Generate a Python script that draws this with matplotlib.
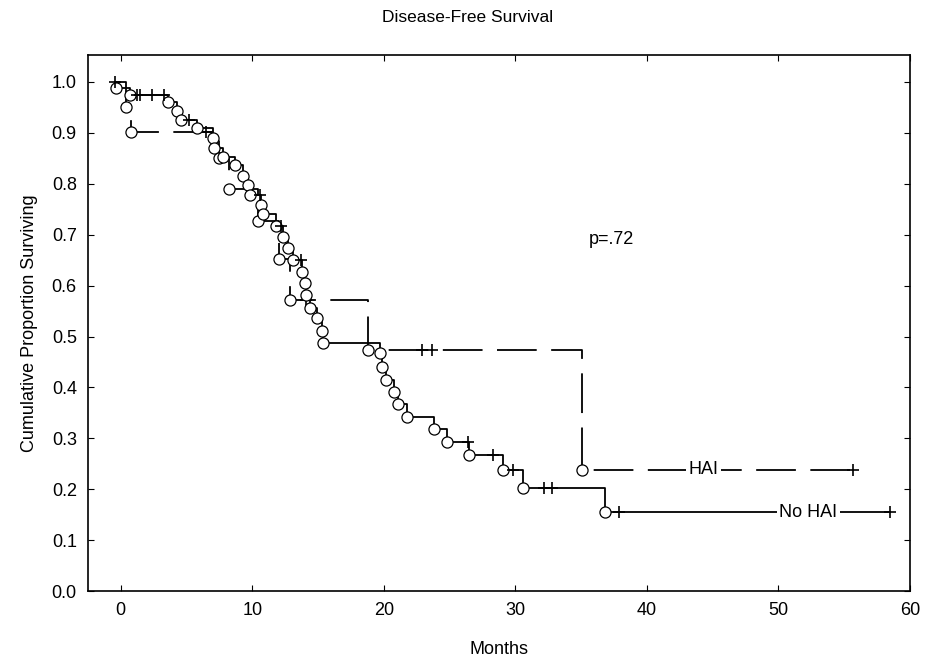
import numpy as np
import matplotlib
matplotlib.use("Agg")
import matplotlib.pyplot as plt

plt.rcParams['font.family'] = ['Liberation Sans', 'DejaVu Sans']

# No HAI group: complete observations (time in months, survival after event)
nohai_event_t = [-0.4, 0.7, 3.6, 4.3, 4.6, 5.8, 7.0, 7.1, 7.8, 8.7, 9.3, 9.7, 9.8,
                 10.7, 10.85, 11.8, 12.3, 12.7, 13.1, 13.8, 14.0, 14.1, 14.4, 14.9,
                 15.3, 15.4, 19.7, 19.85, 20.2, 20.8, 21.1, 21.8, 23.8, 24.8, 26.5,
                 29.1, 30.6, 36.8]
nohai_event_s = [0.988, 0.975, 0.96, 0.942, 0.925, 0.91, 0.89, 0.87, 0.852, 0.836,
                 0.816, 0.798, 0.778, 0.758, 0.74, 0.717, 0.696, 0.674, 0.65, 0.627,
                 0.605, 0.582, 0.556, 0.536, 0.511, 0.487, 0.467, 0.44, 0.415, 0.391,
                 0.367, 0.342, 0.318, 0.293, 0.267, 0.238, 0.203, 0.155]
nohai_censor_t = [-0.45, 1.2, 1.45, 2.4, 3.3, 5.2, 10.6, 12.2, 13.7, 26.4, 28.3,
                  29.8, 32.2, 32.8, 37.9, 58.5]

# HAI group
hai_event_t = [0.4, 0.8, 7.5, 8.2, 10.4, 12.0, 12.85, 18.8, 35.1]
hai_event_s = [0.951, 0.902, 0.85, 0.79, 0.727, 0.652, 0.572, 0.473, 0.238]
hai_censor_t = [6.5, 14.1, 22.9, 23.7, 55.7]

start_t = -0.45
p_text = "p=.72"


def surv_at(t, ev_t, ev_s):
    # survival level holding at time t
    idx = np.searchsorted(ev_t, t, side='right') - 1
    return 1.0 if idx < 0 else ev_s[idx]


def draw_group(ax, ev_t, ev_s, cen_t, ls, dashes=None):
    end_t = max(max(cen_t), max(ev_t))
    xs = [start_t] + list(ev_t) + [end_t]
    ys = [1.0] + list(ev_s) + [ev_s[-1]]
    line, = ax.step(xs, ys, where='post', color='black', lw=1.3, ls=ls, zorder=2)
    if dashes is not None:
        line.set_dashes(dashes)
    ax.plot(ev_t, ev_s, 'o', ms=8, mfc='white', mec='black', mew=0.9, zorder=3)
    cen_s = [surv_at(t, ev_t, ev_s) for t in cen_t]
    ax.plot(cen_t, cen_s, '+', ms=9, mec='black', mew=1.2, zorder=3)


fig = plt.figure(figsize=(9.35, 6.62), dpi=100)
ax = fig.add_axes([0.094, 0.107, 0.879, 0.810])

draw_group(ax, hai_event_t, hai_event_s, hai_censor_t, '--', dashes=(22, 8))
draw_group(ax, nohai_event_t, nohai_event_s, nohai_censor_t, '-')

ax.text(44.3, hai_event_s[-1], "HAI", fontsize=13, ha='center', va='center',
        bbox=dict(facecolor='white', edgecolor='none', pad=2), zorder=4)
ax.text(52.3, nohai_event_s[-1], "No HAI", fontsize=13, ha='center', va='center',
        bbox=dict(facecolor='white', edgecolor='none', pad=2), zorder=4)
ax.text(37.3, 0.69, p_text, fontsize=13, ha='center', va='center')

ax.set_xlim(-2.5, 60)
ax.set_ylim(0, 1.053)
ax.set_xticks(np.arange(0, 61, 10))
ax.set_yticks(np.arange(0, 1.01, 0.1))
ax.set_yticklabels([f"{v:.1f}" for v in np.arange(0, 1.01, 0.1)])
ax.tick_params(direction='in', length=4, width=0.8, labelsize=13,
               top=True, right=True, pad=8)
for sp in ax.spines.values():
    sp.set_linewidth(1.2)

ax.set_xlabel("Months", fontsize=13, labelpad=16)
ax.set_ylabel("Cumulative Proportion Surviving", fontsize=13, labelpad=10)
fig.suptitle("Disease-Free Survival", fontsize=12.5, y=0.985)

fig.savefig("out.png", dpi=100)
